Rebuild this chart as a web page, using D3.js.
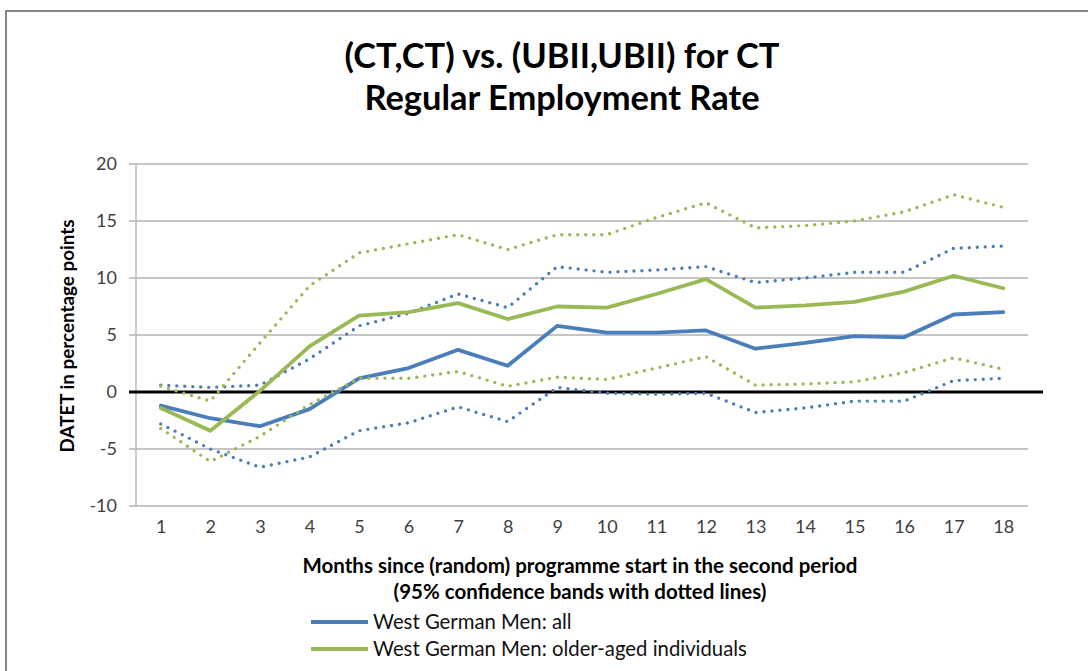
<!DOCTYPE html>
<html>
<head>
<meta charset="utf-8">
<script src="https://cdn.jsdelivr.net/npm/d3@7.9.0/dist/d3.min.js"></script>
<style>
  html, body { margin: 0; padding: 0; background: #fff; }
  svg { display: block; }
  text { font-family: Lato, "Open Sans", sans-serif; }
</style>
</head>
<body>
<svg id="chart" width="1088" height="671"></svg>
<script>
const months = ['1','2','3','4','5','6','7','8','9','10','11','12','13','14','15','16','17','18'];
const yTicks = [-10, -5, 0, 5, 10, 15, 20];

// West German Men: all
const allMen = [-1.2, -2.3, -3.0, -1.5, 1.2, 2.1, 3.7, 2.3, 5.8, 5.2, 5.2, 5.4, 3.8, 4.3, 4.9, 4.8, 6.8, 7.0];
const allUpper = [0.6, 0.4, 0.6, 2.9, 5.8, 6.9, 8.6, 7.4, 11.0, 10.5, 10.7, 11.0, 9.6, 10.0, 10.5, 10.5, 12.6, 12.8];
const allLower = [-2.8, -5.0, -6.6, -5.7, -3.4, -2.7, -1.3, -2.6, 0.4, -0.1, -0.2, -0.1, -1.8, -1.4, -0.8, -0.8, 1.0, 1.2];

// West German Men: older-aged individuals
const olderMen = [-1.4, -3.4, 0.1, 4.0, 6.7, 7.0, 7.8, 6.4, 7.5, 7.4, 8.6, 9.9, 7.4, 7.6, 7.9, 8.8, 10.2, 9.1];
const olderUpper = [0.5, -0.8, 4.3, 9.3, 12.2, 13.0, 13.8, 12.5, 13.8, 13.8, 15.3, 16.6, 14.4, 14.6, 15.0, 15.8, 17.3, 16.2];
const olderLower = [-3.2, -6.1, -3.9, -1.1, 1.2, 1.2, 1.8, 0.5, 1.3, 1.1, 2.1, 3.1, 0.6, 0.7, 0.9, 1.7, 3.0, 2.0];

const legendLabels = ['West German Men: all', 'West German Men: older-aged individuals'];
const blue = '#4a7ebb', green = '#98b954';

const svg = d3.select('#chart');

// shrink or grow a text's font so it spans roughly the given width
function fitWidth(sel, target) {
    let size = parseFloat(sel.attr('font-size'));
    let w = sel.node().getComputedTextLength();
    if (w > 0) sel.attr('font-size', (size * target / w).toFixed(2));
}

// outer chart frame (cut off at right and bottom)
svg.append('rect')
    .attr('x', 6).attr('y', 11)
    .attr('width', 1100).attr('height', 700)
    .attr('fill', 'none')
    .attr('stroke', '#868686')
    .attr('stroke-width', 2);

const x = d3.scalePoint().domain(months).range([136, 1028]).padding(0.5);
const y = d3.scaleLinear().domain([-10, 20]).range([506, 164]);

// gridlines
svg.append('g')
    .selectAll('line')
    .data(yTicks.filter(d => d !== 0))
    .join('line')
    .attr('x1', 129).attr('x2', 1028)
    .attr('y1', d => y(d)).attr('y2', d => y(d))
    .attr('stroke', '#b2b2b2')
    .attr('stroke-width', 1.3);

// left axis line
svg.append('line')
    .attr('x1', 136).attr('x2', 136)
    .attr('y1', y(20)).attr('y2', y(-10))
    .attr('stroke', '#b2b2b2')
    .attr('stroke-width', 1.3);

// y tick labels (plain hyphen for negatives, like the original)
const yAxis = svg.append('g')
    .attr('transform', 'translate(136,0)')
    .call(d3.axisLeft(y).tickValues(yTicks).tickFormat(d => String(d)).tickSize(0).tickPadding(19));
yAxis.select('.domain').remove();
yAxis.selectAll('text')
    .attr('font-family', 'Lato, sans-serif')
    .attr('font-size', 18)
    .attr('fill', '#404040');

// x tick labels
const xAxis = svg.append('g')
    .attr('transform', `translate(0,${y(-10)})`)
    .call(d3.axisBottom(x).tickSize(0).tickPadding(14));
xAxis.select('.domain').remove();
xAxis.selectAll('text')
    .attr('font-family', 'Lato, sans-serif')
    .attr('font-size', 18)
    .attr('fill', '#404040');

// zero line
svg.append('line')
    .attr('x1', 129).attr('x2', 1043)
    .attr('y1', y(0)).attr('y2', y(0))
    .attr('stroke', '#000')
    .attr('stroke-width', 3);

const line = d3.line()
    .x((d, i) => x(months[i]))
    .y(d => y(d));

const series = [
    { values: allMen, color: blue, dotted: false },
    { values: allUpper, color: blue, dotted: true },
    { values: allLower, color: blue, dotted: true },
    { values: olderMen, color: green, dotted: false },
    { values: olderUpper, color: green, dotted: true },
    { values: olderLower, color: green, dotted: true }
];

series.forEach(s => {
    svg.append('path')
        .attr('d', line(s.values))
        .attr('fill', 'none')
        .attr('stroke', s.color)
        .attr('stroke-width', s.dotted ? 3.4 : 3.8)
        .attr('stroke-linecap', 'round')
        .attr('stroke-linejoin', 'round')
        .attr('stroke-dasharray', s.dotted ? '0 8' : null);
});

// title
const t1 = svg.append('text')
    .attr('x', 562).attr('y', 68)
    .attr('text-anchor', 'middle')
    .attr('font-weight', 'bold')
    .attr('font-size', 33)
    .text('(CT,CT) vs. (UBII,UBII) for CT');
fitWidth(t1, 435);
svg.append('text')
    .attr('x', 562).attr('y', 110)
    .attr('text-anchor', 'middle')
    .attr('font-weight', 'bold')
    .attr('font-size', t1.attr('font-size'))
    .text('Regular Employment Rate');

// y axis title
const yt = svg.append('text')
    .attr('transform', 'translate(74,336) rotate(-90)')
    .attr('text-anchor', 'middle')
    .attr('font-weight', 'bold')
    .attr('font-size', 17)
    .text('DATET in percentage points');
fitWidth(yt, 233);

// x axis title
const xt1 = svg.append('text')
    .attr('x', 580).attr('y', 573)
    .attr('text-anchor', 'middle')
    .attr('font-weight', 'bold')
    .attr('font-size', 17)
    .text('Months since (random) programme start in the second period');
fitWidth(xt1, 555);
svg.append('text')
    .attr('x', 580).attr('y', 599)
    .attr('text-anchor', 'middle')
    .attr('font-weight', 'bold')
    .attr('font-size', xt1.attr('font-size'))
    .text('(95% confidence bands with dotted lines)');

// legend
const legend = svg.append('g')
    .selectAll('g')
    .data(legendLabels)
    .join('g')
    .attr('transform', (d, i) => `translate(311,${622 + i * 27})`);
legend.append('line')
    .attr('x1', 0).attr('x2', 57)
    .attr('stroke', (d, i) => i === 0 ? blue : green)
    .attr('stroke-width', 3.8);
const legendText = legend.append('text')
    .attr('x', 62).attr('y', 7)
    .attr('font-size', 17)
    .attr('fill', '#111')
    .text(d => d);
fitWidth(d3.select(legendText.nodes()[1]), 374);
legendText.attr('font-size', d3.select(legendText.nodes()[1]).attr('font-size'));
</script>
</body>
</html>
